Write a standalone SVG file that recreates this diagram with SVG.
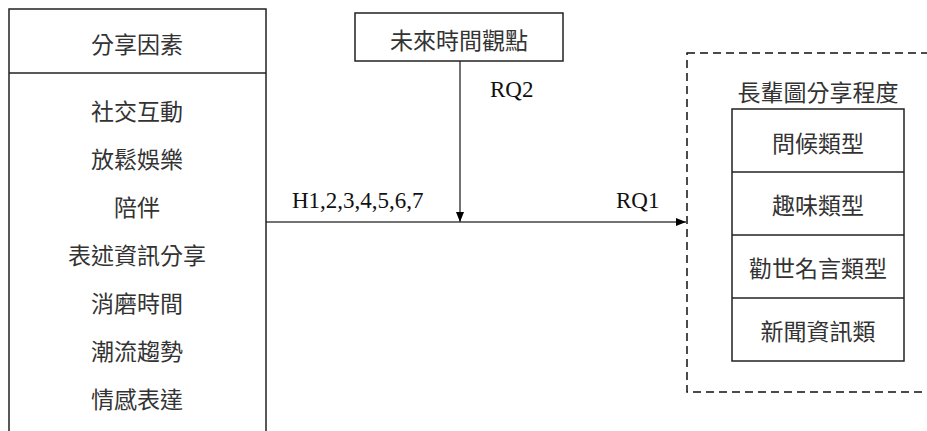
<svg xmlns="http://www.w3.org/2000/svg" width="927" height="431" viewBox="0 0 927 431">
<style>
.box{fill:#fff;stroke:#222;stroke-width:1.5}
.cjk{font-family:"Noto Sans CJK TC","Noto Sans CJK SC",sans-serif;font-size:23px;fill:#333;text-anchor:middle;dominant-baseline:central}
.lat{font-family:"Liberation Serif",serif;font-size:23px;fill:#111}
.ln{stroke:#444;stroke-width:1.5;fill:none}
</style>
<defs>
<marker id="ah" viewBox="0 0 10 10" refX="10" refY="5" markerWidth="10" markerHeight="10" markerUnits="userSpaceOnUse" orient="auto">
<path d="M0,1 L10,5 L0,9 Z" fill="#000"/>
</marker>
</defs>
<g id="connectors">
<line class="ln" x1="266" y1="222" x2="686" y2="222" marker-end="url(#ah)"/>
<line class="ln" x1="460" y1="61" x2="460" y2="222" marker-end="url(#ah)"/>
<text class="lat" x="292" y="208">H1,2,3,4,5,6,7</text>
<text class="lat" x="616" y="208">RQ1</text>
<text class="lat" x="490" y="97">RQ2</text>
</g>
<g id="factors">
<rect class="box" x="9" y="9" width="257" height="440"/>
<line class="box" x1="9" y1="73" x2="266" y2="73"/>
<text class="cjk" x="137" y="43">分享因素</text>
<text class="cjk" x="137" y="110">社交互動</text>
<text class="cjk" x="137" y="158">放鬆娛樂</text>
<text class="cjk" x="137" y="206">陪伴</text>
<text class="cjk" x="137" y="254">表述資訊分享</text>
<text class="cjk" x="137" y="302">消磨時間</text>
<text class="cjk" x="137" y="350">潮流趨勢</text>
<text class="cjk" x="137" y="398">情感表達</text>
</g>
<g id="future">
<rect class="box" x="355" y="13" width="208" height="48"/>
<text class="cjk" x="459" y="39">未來時間觀點</text>
</g>
<g id="sharing">
<rect x="687" y="53" width="260" height="339" fill="none" stroke="#111" stroke-width="1.5" stroke-dasharray="8,5"/>
<text class="cjk" x="818" y="91">長輩圖分享程度</text>
<rect class="box" x="732" y="109" width="172" height="252"/>
<line class="box" x1="732" y1="172" x2="904" y2="172"/>
<line class="box" x1="732" y1="235" x2="904" y2="235"/>
<line class="box" x1="732" y1="298" x2="904" y2="298"/>
<text class="cjk" x="818" y="142">問候類型</text>
<text class="cjk" x="818" y="204">趣味類型</text>
<text class="cjk" x="818" y="267">勸世名言類型</text>
<text class="cjk" x="818" y="330">新聞資訊類</text>
</g>
</svg>
